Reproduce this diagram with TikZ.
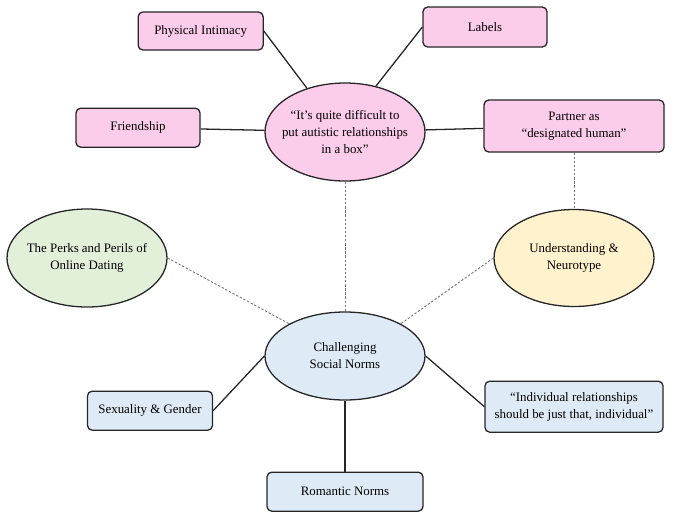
\documentclass[tikz,border=0pt]{standalone}
\usepackage{fontspec}
\setmainfont{Liberation Serif}
\usetikzlibrary{shapes.geometric}
\definecolor{pinkfill}{HTML}{FCCDEB}
\definecolor{bluefill}{HTML}{DEEBF7}
\definecolor{greenfill}{HTML}{E2F0D9}
\definecolor{yellowfill}{HTML}{FFF2CC}
\definecolor{linecol}{HTML}{262626}

\begin{document}
\begin{tikzpicture}[every node/.style={font=\fontsize{11}{14.5}\selectfont, text=black}, bx/.style={draw=linecol, line width=1.1pt, rounded corners=4pt, inner sep=0pt, align=center, minimum height=1.17cm}, oval/.style={ellipse, draw=linecol, line width=1.1pt, inner sep=-12pt, align=center, minimum width=4.8cm}, link/.style={linecol, line width=1.1pt}, dlink/.style={black!55, line width=0.75pt, dash pattern=on 2pt off 1.5pt}]
	\useasboundingbox (0,0) rectangle (20.28,-15.63);
	% upper cluster
	\node[oval, fill=pinkfill, minimum height=2.94cm] (top) at (10.35,-3.96) {``It's quite difficult to\\ put autistic relationships\\ in a box''};
	\node[bx, fill=pinkfill, minimum width=3.75cm, minimum height=1.14cm] (phys) at (6.02,-0.93) {Physical Intimacy};
	\node[bx, fill=pinkfill, minimum width=3.72cm, minimum height=1.2cm] (labels) at (14.55,-0.81) {Labels};
	\node[bx, fill=pinkfill, minimum width=3.72cm] (friend) at (4.14,-3.83) {Friendship};
	\node[bx, fill=pinkfill, minimum width=5.4cm, minimum height=1.56cm] (partner) at (17.22,-3.78) {Partner as\\ ``designated human''};
	% side ovals
	\node[oval, fill=greenfill, minimum height=2.94cm] (perks) at (2.61,-7.74) {The Perks and Perils of\\ Online Dating};
	\node[oval, fill=yellowfill, minimum height=2.91cm] (underst) at (17.22,-7.74) {Understanding \&\\ Neurotype};
	% lower cluster
	\node[oval, fill=bluefill, minimum height=2.64cm] (chal) at (10.35,-10.68) {Challenging\\ Social Norms};
	\node[bx, fill=bluefill, minimum width=3.75cm] (sex) at (4.5,-12.32) {Sexuality \& Gender};
	\node[bx, fill=bluefill, minimum width=5.34cm, minimum height=1.53cm] (indiv) at (17.22,-12.2) {``Individual relationships\\ should be just that, individual''};
	\node[bx, fill=bluefill, minimum width=4.68cm] (rom) at (10.35,-14.75) {Romantic Norms};
	\draw[link] (phys.east) -- (top.131);
	\draw[link] (labels.west) -- (top.56);
	\draw[link] (friend) -- (top);
	\draw[link] (partner) -- (top);
	\draw[dlink] (top) -- (chal);
	\draw[dlink] (partner) -- (underst);
	\draw[dlink] (perks.east) -- (chal.150);
	\draw[dlink] (underst.west) -- (chal.30);
	\draw[link] (chal.west) -- (sex.east);
	\draw[link] (chal.east) -- (indiv.west);
	\draw[link] (chal) -- (rom);
\end{tikzpicture}
\end{document}
